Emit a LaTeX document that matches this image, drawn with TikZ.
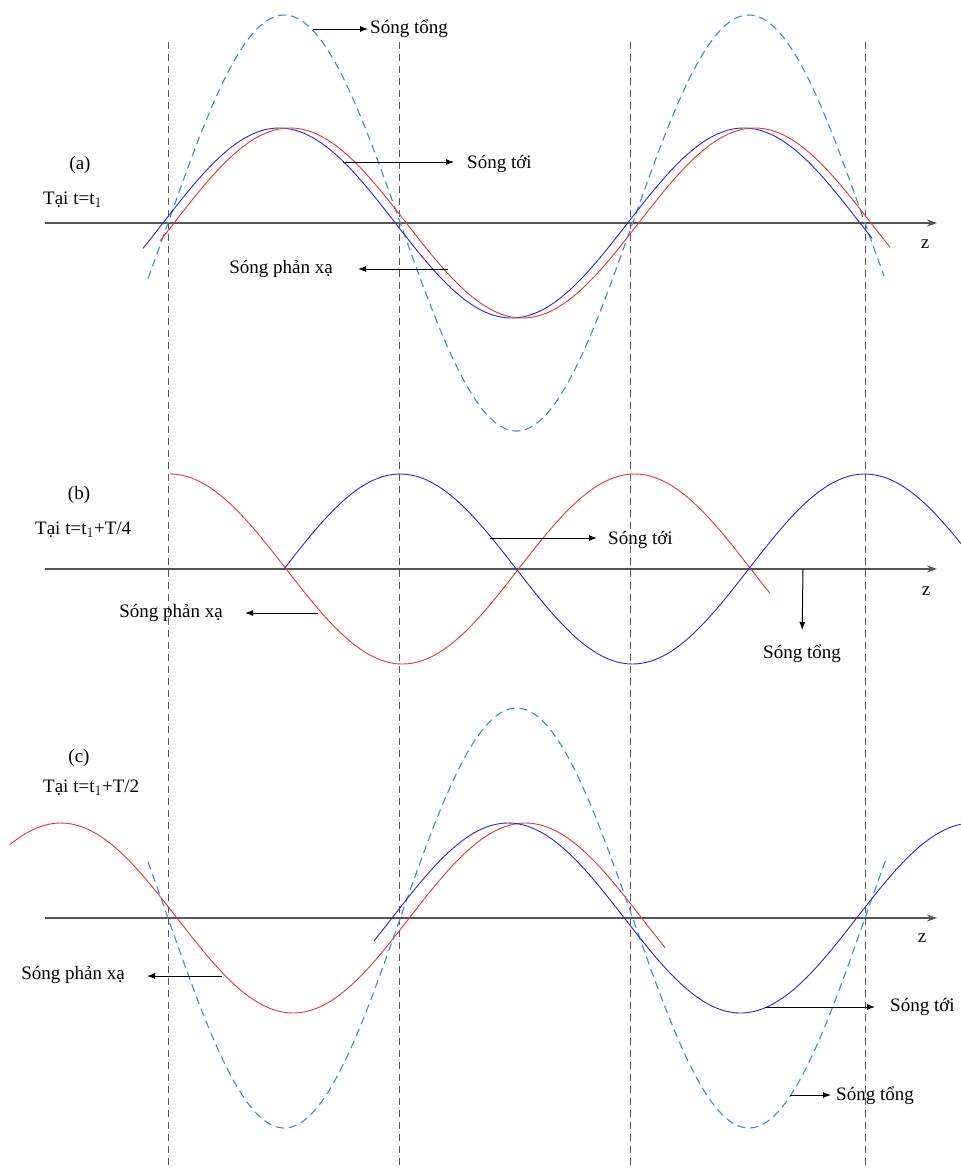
\documentclass[tikz,border=0pt]{standalone}
\usepackage{fontspec}
\setmainfont{Liberation Serif}
\usetikzlibrary{arrows.meta}
\definecolor{incblue}{RGB}{45,40,200}
\definecolor{refred}{RGB}{228,55,55}
\definecolor{sumblue}{RGB}{60,140,220}
\definecolor{axisgray}{RGB}{85,85,85}
\begin{document}
\begin{tikzpicture}[x=1pt,y=-1pt,
  lbl/.style={font=\fontsize{19}{21}\selectfont, inner sep=0pt},
  axisline/.style={draw=axisgray, line width=1.2pt, -{Stealth[length=10pt,width=7pt]}},
  nodeline/.style={draw=black!65, line width=1pt, dash pattern=on 7pt off 5pt},
  inc/.style={draw=incblue, line width=0.9pt, samples=160, smooth},
  refl/.style={draw=refred, line width=0.9pt, samples=160, smooth},
  sumw/.style={draw=sumblue, line width=1.1pt, dash pattern=on 8pt off 5pt, samples=160, smooth},
  pointer/.style={draw=black, line width=1pt, -{Latex[length=8pt,width=6pt]}}]
\useasboundingbox (0,0) rectangle (961,1168);
\fill[white] (0,0) rectangle (961,1168);
\def\kk{0.77476}

% vertical node lines
\foreach \xx [count=\i] in {168,399,630,865} {
  \coordinate (vt\i) at (\xx,42);
  \coordinate (vb\i) at (\xx,1168);
  \draw[nodeline] (vt\i) -- (vb\i);
}

% ---------------- panel (a) ----------------
\coordinate (axAs) at (45,223);
\coordinate (axAe) at (937,223);
\draw[axisline] (axAs) -- (axAe);
\node[lbl] (zA) at (925,244) {z};
\node[lbl] (labA) at (80,165) {(a)};
\node[lbl, anchor=west] (timeA) at (43,200) {Tại t=t$_1$};

\draw[sumw] plot[domain=148:884] (\x, {223-208*sin(\kk*(\x-168))});
\draw[inc]  plot[domain=143:872] (\x, {223-95*sin(\kk*(\x-163))});
\draw[refl] plot[domain=160:890] (\x, {223-95*sin(\kk*(\x-174))});

\node[lbl, anchor=west] (tongA) at (370,29) {Sóng tổng};
\coordinate (tongAs) at (313,29);
\draw[pointer, shorten >=2pt] (tongAs) -- (tongA.west);

\node[lbl, anchor=west] (toiA) at (467,164) {Sóng tới};
\coordinate (toiAs) at (343,162);
\draw[pointer, shorten >=13pt] (toiAs) -- (toiA.west |- toiAs);

\node[lbl, anchor=east] (pxA) at (333,269) {Sóng phản xạ};
\coordinate (pxAs) at (448,269);
\draw[pointer, shorten >=25pt] (pxAs) -- (pxA.east);

% ---------------- panel (b) ----------------
\coordinate (axBs) at (45,569);
\coordinate (axBe) at (937,569);
\draw[axisline] (axBs) -- (axBe);
\node[lbl] (zB) at (926,591) {z};
\node[lbl] (labB) at (79,495) {(b)};
\node[lbl, anchor=west] (timeB) at (35,530) {Tại t=t$_1$+T/4};

\draw[refl] plot[domain=170:770] (\x, {569-95*cos(\kk*(\x-170))});
\draw[inc]  plot[domain=284:961] (\x, {569-95*sin(\kk*(\x-284))});

\node[lbl, anchor=west] (toiB) at (608,540) {Sóng tới};
\coordinate (toiBs) at (490,538);
\draw[pointer, shorten >=11pt] (toiBs) -- (toiB.west |- toiBs);

\node[lbl, anchor=north] (tongB) at (802,645) {Sóng tổng};
\coordinate (tongBs) at (803,569);
\draw[pointer, shorten >=15pt] (tongBs) -- (tongB.north);

\node[lbl, anchor=east] (pxB) at (223,613) {Sóng phản xạ};
\coordinate (pxBs) at (318,613);
\draw[pointer, shorten >=22pt] (pxBs) -- (pxB.east);

% ---------------- panel (c) ----------------
\coordinate (axCs) at (45,918);
\coordinate (axCe) at (937,918);
\draw[axisline] (axCs) -- (axCe);
\node[lbl] (zC) at (922,938) {z};
\node[lbl] (labC) at (79,758) {(c)};
\node[lbl, anchor=west] (timeC) at (43,788) {Tại t=t$_1$+T/2};

\draw[sumw] plot[domain=148:886] (\x, {918+210*sin(\kk*(\x-168))});
\draw[refl] plot[domain=10:665] (\x, {918+95*sin(\kk*(\x-177))});
\draw[inc]  plot[domain=374:961] (\x, {918-95*sin(\kk*(\x-392))});

\node[lbl, anchor=east] (pxC) at (125,975) {Sóng phản xạ};
\coordinate (pxCs) at (222,976);
\draw[pointer, shorten >=22pt] (pxCs) -- (pxC.east |- pxCs);

\node[lbl, anchor=west] (toiC) at (890,1007) {Sóng tới};
\coordinate (toiCs) at (765,1007);
\draw[pointer, shorten >=15pt] (toiCs) -- (toiC.west);

\node[lbl, anchor=west] (tongC) at (836,1096) {Sóng tổng};
\coordinate (tongCs) at (790,1095);
\draw[pointer, shorten >=5pt] (tongCs) -- (tongC.west |- tongCs);
\end{tikzpicture}
\end{document}
